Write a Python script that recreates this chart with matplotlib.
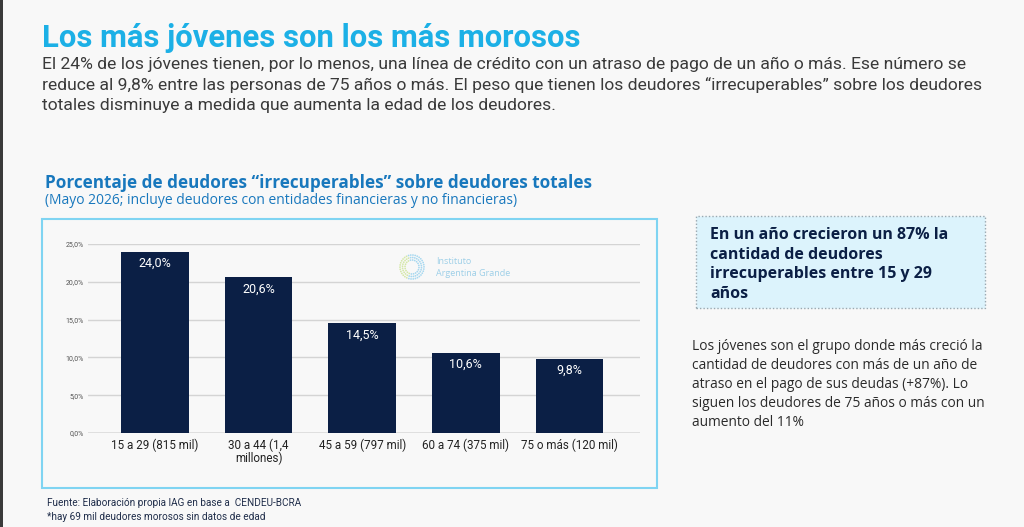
import numpy as np
import matplotlib.pyplot as plt
from matplotlib.patches import Rectangle

# Data
categories = ['15 a 29 (815 mil)', '30 a 44 (1,4\nmillones)', '45 a 59 (797 mil)',
              '60 a 74 (375 mil)', '75 o más (120 mil)']
values = [24.0, 20.6, 14.5, 10.6, 9.8]
value_labels = ['24,0%', '20,6%', '14,5%', '10,6%', '9,8%']
yticks = [0, 5, 10, 15, 20, 25]
ytick_labels = ['0,0%', '5,0%', '10,0%', '15,0%', '20,0%', '25,0%']

W, H = 1024, 527
BG = '#f8f8f8'
NAVY = '#0b1f45'
fig = plt.figure(figsize=(W / 100, H / 100), dpi=100, facecolor=BG)


def px(x, y):
    return x / W, 1 - y / H


def ftext(x, y, s, **kw):
    fx, fy = px(x, y)
    return fig.text(fx, fy, s, **kw)


# dark strip on the left edge
fig.patches.append(Rectangle((0, 0), 3 / W, 1, transform=fig.transFigure,
                             facecolor='#3a3a3a', edgecolor='none'))

# Headline
ftext(42, 38, 'Los más jóvenes son los más morosos', family='Roboto',
      fontsize=22.3, fontweight='bold', color='#1cb0e6', va='center')
para = ('El 24% de los jóvenes tienen, por lo menos, una línea de crédito con un atraso de pago de un año o más. Ese número se\n'
        'reduce al 9,8% entre las personas de 75 años o más. El peso que tienen los deudores “irrecuperables” sobre los deudores\n'
        'totales disminuye a medida que aumenta la edad de los deudores.')
ftext(42, 57, para, family='Roboto', fontsize=12.6, color='#3a3a3a', va='top',
      linespacing=1.4)

# Chart title
ftext(45, 183, 'Porcentaje de deudores “irrecuperables” sobre deudores totales',
      family='Open Sans', fontsize=12.3, fontweight='bold', color='#1878bd', va='center')
ftext(45, 201, '(Mayo 2026; incluye deudores con entidades financieras y no financieras)',
      family='Open Sans', fontsize=10, color='#1878bd', va='center')

# Chart frame
x0, y0 = px(42, 488)
x1, y1 = px(657, 219)
fig.patches.append(Rectangle((x0, y0), x1 - x0, y1 - y0, transform=fig.transFigure,
                             facecolor='none', edgecolor='#7fd4f2', linewidth=1.5))

# Bar chart
ax_l, ax_b = px(88, 433)
ax_r, ax_t = px(640, 244)
ax = fig.add_axes([ax_l, ax_b, ax_r - ax_l, ax_t - ax_b])
ax.set_facecolor(BG)
x = np.arange(len(categories))
bars = ax.bar(x, values, width=0.65, color=NAVY, zorder=3)
for b, lab in zip(bars, value_labels):
    ax.text(b.get_x() + b.get_width() / 2, b.get_height() - 0.7, lab,
            ha='center', va='top', color='white', fontsize=9, family='Roboto', zorder=4)
ax.set_ylim(0, 25)
ax.set_xlim(-0.645, 4.68)
ax.set_yticks(yticks)
ax.set_yticklabels(ytick_labels, fontsize=5, color='#555555', family='Roboto')
ax.set_xticks(x)
ax.set_xticklabels(categories, fontsize=8.4, color='#222222', family='Roboto',
                   linespacing=0.95)
ax.tick_params(axis='both', length=0, pad=4)
ax.tick_params(axis='y', pad=3)
ax.grid(axis='y', color='#d4d4d4', linewidth=1, zorder=0)
for s in ax.spines.values():
    s.set_visible(False)
ax.axhline(0, color='#9a9a9a', linewidth=1, zorder=2)

# watermark logo (dotted rings)
cx, cy = 412, 267
sc = fig.add_axes([0, 0, 1, 1], facecolor='none')
sc.set_axis_off()
sc.set_xlim(0, 1)
sc.set_ylim(0, 1)
for r, n in [(12, 34), (9.5, 28), (7, 20)]:
    ang = np.linspace(0, 2 * np.pi, n, endpoint=False) + r
    lx = (cx + r * np.cos(ang)) / W
    ly = 1 - (cy + r * np.sin(ang)) / H
    cols = ['#cfe59a' if np.cos(t) < -0.3 else '#9ad3ef' for t in ang]
    sc.scatter(lx, ly, s=1.6, c=cols, alpha=0.85, linewidths=0)
ftext(436, 262, 'Instituto', fontsize=6.5, color='#9dcfe8', family='Open Sans', va='center')
ftext(436, 273, 'Argentina Grande', fontsize=6.5, color='#9dcfe8', family='Open Sans', va='center')

# Right highlight box
bx0, by0 = px(696, 308)
bx1, by1 = px(985, 216)
fig.patches.append(Rectangle((bx0, by0), bx1 - bx0, by1 - by0, transform=fig.transFigure,
                             facecolor='#dcf3fc', edgecolor='#9aa8b0', linewidth=1,
                             linestyle=(0, (1, 1.5))))
ftext(710, 227, 'En un año crecieron un 87% la\ncantidad de deudores\nirrecuperables entre 15 y 29\naños',
      family='Open Sans', fontsize=11.5, fontweight='bold', color=NAVY, va='top',
      linespacing=1.3)
ftext(692, 339, 'Los jóvenes son el grupo donde más creció la\ncantidad de deudores con más de un año de\n'
      'atraso en el pago de sus deudas (+87%). Lo\nsiguen los deudores de 75 años o más con un\naumento del 11%',
      family='Open Sans', fontsize=9.95, color='#2a2a2a', va='top', linespacing=1.36)

# Footnotes
ftext(47, 503, 'Fuente: Elaboración propia IAG en base a  CENDEU-BCRA', family='Roboto',
      fontsize=7.2, color='#1f2d4a', va='center')
ftext(47, 517, '*hay 69 mil deudores morosos sin datos de edad', family='Roboto',
      fontsize=7.2, color='#1f2d4a', va='center')

fig.savefig('out.png', dpi=100, facecolor=BG)
